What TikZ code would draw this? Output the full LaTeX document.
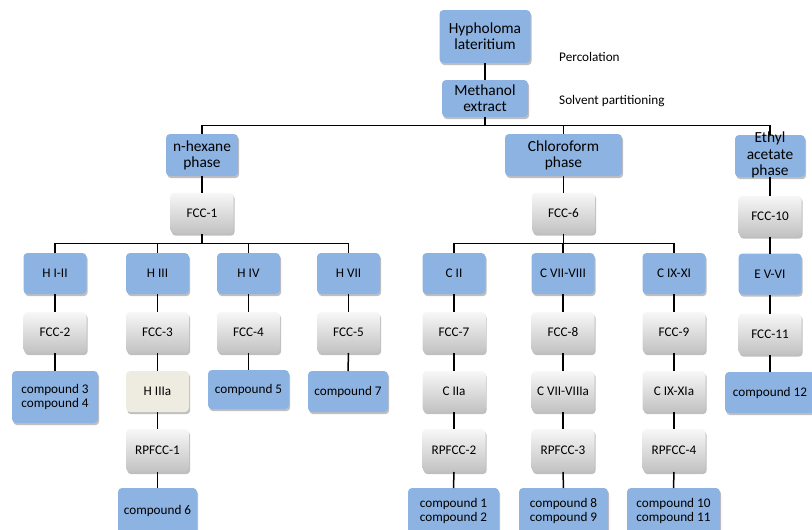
\documentclass[tikz,border=0pt]{standalone}
\usepackage{fontspec}
\setmainfont{Carlito}
\usetikzlibrary{shadows}
\definecolor{boxblue}{HTML}{8DB3E2}
\definecolor{boxbeige}{HTML}{EEECE1}
\tikzset{
  base/.style={rounded corners=4pt, align=center, inner sep=1pt, outer sep=0pt, text=black,
    drop shadow={shadow xshift=1.2pt, shadow yshift=-2.2pt, opacity=0.25, fill=black}},
  bigtxt/.style={font=\fontsize{15.4}{16.2}\selectfont},
  smalltxt/.style={font=\fontsize{13.2}{14.5}\selectfont},
  bluebox/.style={base, fill=boxblue},
  graybox/.style={base, top color=white!97!black, bottom color=black!24, smalltxt},
  beigebox/.style={base, fill=boxbeige, smalltxt},
  sq/.style={minimum width=63pt, minimum height=41pt},
  conn/.style={line width=1.5pt, black},
  plain/.style={smalltxt, inner sep=0pt}
}
\begin{document}
\begin{tikzpicture}[x=1pt,y=-1pt]
\useasboundingbox (0,0) rectangle (812,530);
\clip (0,0) rectangle (812,530);
% top
\node[bluebox,bigtxt,minimum width=91pt,minimum height=53pt] (hyph) at (485,36.5) {Hypholoma\\lateritium};
\node[bluebox,bigtxt,minimum width=86pt,minimum height=37pt] (meoh) at (485,98.5) {Methanol\\extract};
\node[plain,anchor=west] (perc) at (559,57) {Percolation};
\node[plain,anchor=west] (solv) at (559,101) {Solvent partitioning};
% phases
\node[bluebox,bigtxt,minimum width=72pt,minimum height=42pt] (hex) at (202,155) {n-hexane\\phase};
\node[bluebox,bigtxt,minimum width=117pt,minimum height=42pt] (chl) at (563.5,155) {Chloroform\\phase};
\node[bluebox,minimum width=70pt,minimum height=42pt] (eth) at (770,156) {};
% FCC first level
\node[graybox,sq] (fcc1) at (202,213) {FCC-1};
\node[graybox,sq] (fcc6) at (563.5,213) {FCC-6};
\node[graybox,sq] (fcc10) at (770,216) {FCC-10};
% H row
\node[bluebox,smalltxt,sq] (h1) at (55,273.5) {H I-II};
\node[bluebox,smalltxt,sq] (h3) at (157.5,273.5) {H III};
\node[bluebox,smalltxt,sq] (h4) at (248.5,273.5) {H IV};
\node[bluebox,smalltxt,sq] (h7) at (348.5,273.5) {H VII};
\node[bluebox,smalltxt,sq] (cc2) at (454,273.5) {C II};
\node[bluebox,smalltxt,sq] (cc7) at (563,273.5) {C VII-VIII};
\node[bluebox,smalltxt,sq] (cc9) at (674,273.5) {C IX-XI};
\node[bluebox,smalltxt,sq] (ev) at (770,274) {E V-VI};
% FCC row
\node[graybox,sq] (fcc2) at (55,332.5) {FCC-2};
\node[graybox,sq] (fcc3) at (157.5,332.5) {FCC-3};
\node[graybox,sq] (fcc4) at (248.5,332.5) {FCC-4};
\node[graybox,sq] (fcc5) at (348.5,332.5) {FCC-5};
\node[graybox,sq] (fcc7) at (454,332.5) {FCC-7};
\node[graybox,sq] (fcc8) at (563,332.5) {FCC-8};
\node[graybox,sq] (fcc9) at (674,332.5) {FCC-9};
\node[graybox,sq] (fcc11) at (770,334) {FCC-11};
% third row
\node[bluebox,smalltxt,minimum width=86pt,minimum height=52pt] (cp34) at (55,397) {compound 3\\compound 4};
\node[beigebox,sq] (h3a) at (157.5,391.5) {H IIIa};
\node[bluebox,smalltxt,minimum width=81pt,minimum height=39pt] (cp5) at (248.5,389.5) {compound 5};
\node[bluebox,smalltxt,minimum width=80pt,minimum height=41pt] (cp7) at (348,391.5) {compound 7};
\node[graybox,sq] (c2a) at (454,391.5) {C IIa};
\node[graybox,sq] (c7a) at (563,391.5) {C VII-VIIIa};
\node[graybox,sq] (c9a) at (674,391.5) {C IX-XIa};
\node[bluebox,smalltxt,minimum width=90pt,minimum height=41pt] (cp12) at (770,392.5) {compound 12};
% RPFCC row
\node[graybox,sq,minimum height=43pt] (rp1) at (157.5,450.5) {RPFCC-1};
\node[graybox,sq,minimum height=43pt] (rp2) at (454,450.5) {RPFCC-2};
\node[graybox,sq,minimum height=43pt] (rp3) at (563,450.5) {RPFCC-3};
\node[graybox,sq,minimum height=43pt] (rp4) at (674,450.5) {RPFCC-4};
% bottom row
\node[bluebox,smalltxt,minimum width=79pt,minimum height=46pt] (cp6) at (157.5,511) {compound 6};
\node[bluebox,smalltxt,minimum width=91pt,minimum height=46pt] (cp12b) at (453.5,511) {compound 1\\compound 2};
\node[bluebox,smalltxt,minimum width=89pt,minimum height=46pt] (cp89) at (563.5,511) {compound 8\\compound 9};
\node[bluebox,smalltxt,minimum width=93pt,minimum height=46pt] (cp1011) at (673.5,511) {compound 10\\compound 11};
% connectors
\coordinate (trunk) at (485,125.5);
\coordinate (hbus) at (0,243.5);
\draw[conn] (hyph.south) -- (meoh.north);
\draw[conn] (meoh.south) -- (trunk);
\draw[conn] (hex.north) |- (trunk) -| (eth.north);
\draw[conn] (chl.north) -- (chl.north |- trunk);
\draw[conn] (hex.south) -- (fcc1.north);
\draw[conn] (chl.south) -- (fcc6.north);
\draw[conn] (eth.south) -- (fcc10.north);
\draw[conn] (fcc1.south) -- (fcc1.south |- hbus);
\draw[conn] (fcc6.south) -- (fcc6.south |- hbus);
\draw[conn] (h1.north) |- (hbus -| h7) -- (h7.north);
\draw[conn] (h3.north) -- (h3.north |- hbus);
\draw[conn] (h4.north) -- (h4.north |- hbus);
\draw[conn] (cc2.north) |- (hbus -| cc9) -- (cc9.north);
\draw[conn] (cc7.north) -- (cc7.north |- hbus);
\foreach \a/\b in {h1/fcc2, fcc2/cp34, h3/fcc3, fcc3/h3a, h3a/rp1, rp1/cp6,
  h4/fcc4, fcc4/cp5, h7/fcc5, fcc5/cp7,
  cc2/fcc7, fcc7/c2a, c2a/rp2, rp2/cp12b,
  cc7/fcc8, fcc8/c7a, c7a/rp3, rp3/cp89,
  cc9/fcc9, fcc9/c9a, c9a/rp4, rp4/cp1011,
  fcc10/ev, ev/fcc11, fcc11/cp12}
  \draw[conn] (\a.south) -- (\b.north);
\node[bigtxt,align=center,inner sep=0pt] (ethtxt) at (770,155) {Ethyl\\acetate\\phase};
\end{tikzpicture}
\end{document}
